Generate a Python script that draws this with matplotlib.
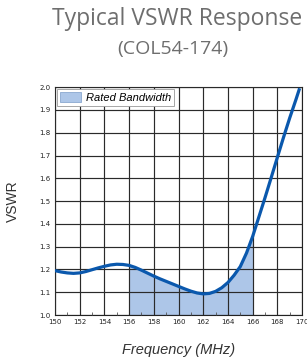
import matplotlib
matplotlib.use("Agg")
import matplotlib.pyplot as plt
import numpy as np

freq = [150, 150.5, 151, 151.5, 152, 152.5, 153, 153.5, 154, 154.5, 155, 155.5,
        156, 156.5, 157, 157.5, 158, 158.5, 159, 159.5, 160, 160.5, 161, 161.5,
        162, 162.5, 163, 163.5, 164, 164.5, 165, 165.5, 166, 166.5, 167, 167.5,
        168, 168.5, 169, 169.5, 169.8]
vswr = [1.195, 1.189, 1.185, 1.183, 1.185, 1.191, 1.199, 1.207, 1.214, 1.220, 1.223, 1.222,
        1.218, 1.209, 1.197, 1.184, 1.171, 1.159, 1.148, 1.137, 1.126, 1.115, 1.105, 1.097,
        1.093, 1.095, 1.104, 1.120, 1.143, 1.175, 1.213, 1.272, 1.345, 1.430, 1.515, 1.603,
        1.692, 1.780, 1.865, 1.945, 1.995]
band_lo, band_hi = 156, 166
xticks = list(range(150, 171, 2))
yticks = [1.0, 1.1, 1.2, 1.3, 1.4, 1.5, 1.6, 1.7, 1.8, 1.9, 2.0]

fig = plt.figure(figsize=(3.07, 3.63), dpi=100)
ax = fig.add_axes([0.179, 0.132, 0.805, 0.628])

f = np.array(freq); v = np.array(vswr)
mask = (f >= band_lo) & (f <= band_hi)
ax.fill_between(f[mask], 1.0, v[mask], color="#adc6e8", lw=0, zorder=1,
                label="Rated Bandwidth")
ax.plot(f, v, color="#0a58ad", lw=2.3, zorder=3, solid_capstyle="butt",
        solid_joinstyle="round")

ax.set_xlim(150, 170)
ax.set_ylim(1.0, 2.0)
ax.set_xticks(xticks)
ax.set_yticks(yticks)
ax.set_xticklabels([str(x) for x in xticks])
ax.set_yticklabels([f"{y:.1f}" for y in yticks])
ax.set_xticks(list(range(151, 170, 2)), minor=True)
ax.tick_params(axis="both", which="major", labelsize=5, length=0, pad=3,
               labelcolor="#222222")
ax.tick_params(axis="x", which="minor", direction="in", length=2, width=0.6, color="#555555")
ax.grid(True, which="major", color="#2a2a2a", lw=0.85, zorder=2)
ax.set_axisbelow(False)
for s in ax.spines.values():
    s.set_color("#222222"); s.set_linewidth(0.8)

ax.set_ylabel("VSWR", fontsize=10, color="#333333", family="Liberation Sans", labelpad=14)
ax.set_xlabel("Frequency (MHz)", fontsize=10.5, color="#333333", family="Liberation Sans",
              style="italic", labelpad=13)

leg = ax.legend(loc="upper left", bbox_to_anchor=(0.0, 1.0),
                prop={"family": "Liberation Sans", "style": "italic", "size": 8},
                frameon=True, fancybox=False, borderpad=0.3, handlelength=1.9,
                handleheight=0.95, handletextpad=0.4, borderaxespad=0.15)
leg.get_frame().set_edgecolor("#999999")
leg.get_frame().set_linewidth(0.6)
leg.get_frame().set_alpha(1)
leg.legend_handles[0].set_edgecolor("#8aa8d0")
leg.legend_handles[0].set_linewidth(0.6)
leg.set_zorder(5)

fig.text(0.578, 1 - 19 / 363, "Typical VSWR Response", ha="center", va="center",
         fontsize=16.5, color="#6e6e6e", family="Open Sans")
fig.text(0.562, 1 - 49 / 363, "(COL54-174)", ha="center", va="center",
         fontsize=14, color="#6e6e6e", family="Open Sans")

fig.savefig("out.png", dpi=100)
